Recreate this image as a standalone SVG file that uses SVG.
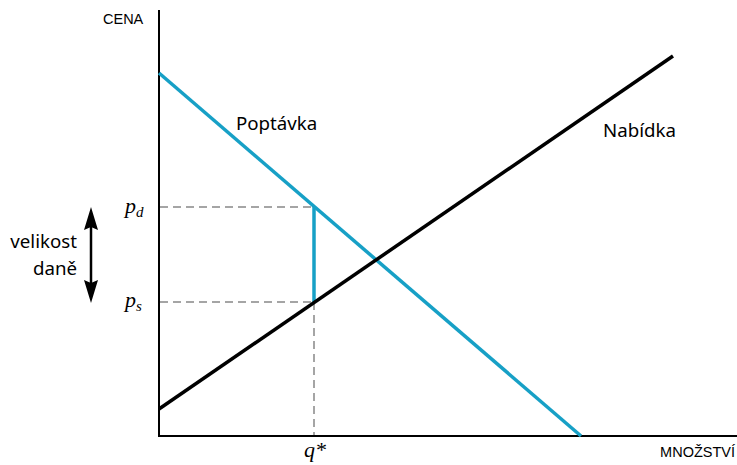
<svg xmlns="http://www.w3.org/2000/svg" width="737" height="465" viewBox="0 0 737 465">
<style>
.axis{stroke:#000;stroke-width:2;fill:none}
.dash{stroke:#888;stroke-width:1.5;stroke-dasharray:8,5;fill:none}
.demand{stroke:#17a0c6;stroke-width:3.5;fill:none}
.supply{stroke:#000;stroke-width:3.5;fill:none}
.ax{font-family:"Liberation Sans",Arial,sans-serif;font-size:14.5px;fill:#000}
.lbl{font-family:"Noto Sans","Open Sans",sans-serif;font-size:18.7px;fill:#000}
.math{font-family:"Liberation Serif","Times New Roman",serif;font-style:italic;font-size:22px;fill:#000}
.sub{font-size:15px}
.head{fill:#000}
</style>
<g id="axes">
<line class="axis" x1="159" y1="10" x2="159" y2="437"/>
<line class="axis" x1="158" y1="436" x2="737" y2="436"/>
<text class="ax" x="103" y="24">CENA</text>
<text class="ax" x="735" y="457" text-anchor="end">MNOŽSTVÍ</text>
</g>
<g id="connectors">
<line class="dash" x1="160" y1="207" x2="314" y2="207"/>
<line class="dash" x1="160" y1="302" x2="314" y2="302"/>
<line class="dash" x1="314" y1="302" x2="314" y2="435"/>
<line class="demand" x1="314" y1="207" x2="314" y2="302"/>
<line x1="91" y1="225" x2="91" y2="285" stroke="#000" stroke-width="2.5"/>
<polygon class="head" points="91,207 98,230 91,227 84,230"/>
<polygon class="head" points="91,303 98,280 91,283 84,280"/>
</g>
<g id="demand">
<line class="demand" x1="159" y1="73" x2="581" y2="436"/>
<text class="lbl" x="236" y="130">Poptávka</text>
</g>
<g id="supply">
<line class="supply" x1="159" y1="409" x2="673" y2="56"/>
<text class="lbl" x="603" y="137">Nabídka</text>
</g>
<g id="tax">
<text class="lbl" x="77" y="248" text-anchor="end">velikost</text>
<text class="lbl" x="77" y="275" text-anchor="end">daně</text>
</g>
<g id="labels">
<text class="math" x="125" y="213">p<tspan class="sub" dy="4">d</tspan></text>
<text class="math" x="125" y="307">p<tspan class="sub" dy="4">s</tspan></text>
<text class="math" x="304" y="457">q*</text>
</g>
</svg>
